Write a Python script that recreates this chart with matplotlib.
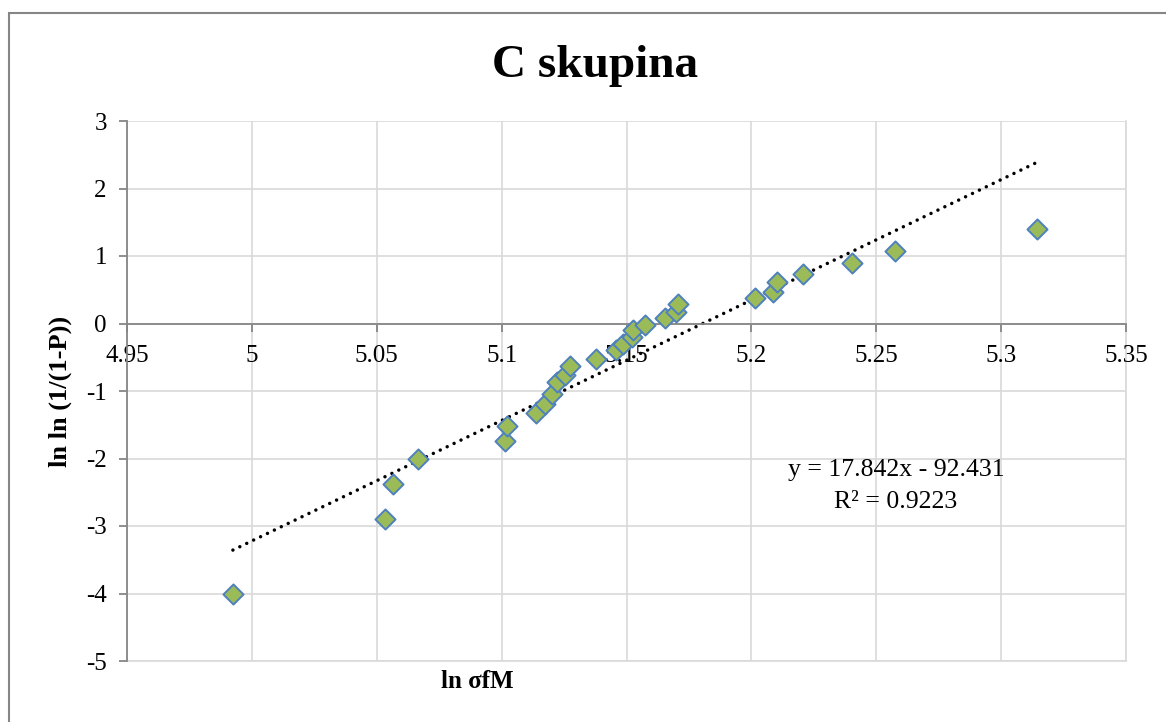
import numpy as np
import matplotlib.pyplot as plt
from matplotlib.patches import Rectangle

plt.rcParams['font.family'] = ['Liberation Serif', 'DejaVu Serif']
plt.rcParams['axes.unicode_minus'] = False

# data (ln sigma_fM vs ln ln (1/(1-P)))
ln_sigma = [4.9924, 5.0532, 5.0565, 5.0665, 5.1012, 5.1021, 5.1139, 5.1172,
            5.1203, 5.1222, 5.1255, 5.1275, 5.1376, 5.1458, 5.1485, 5.1521,
            5.1528, 5.1576, 5.1655, 5.1699, 5.1705, 5.2016, 5.2085, 5.2103,
            5.2208, 5.2401, 5.2575, 5.3145]
lnln_p = [-4.01, -2.895, -2.376, -2.01, -1.743, -1.521, -1.328, -1.189,
          -1.050, -0.870, -0.770, -0.636, -0.521, -0.389, -0.300, -0.201,
          -0.101, -0.016, 0.088, 0.170, 0.293, 0.378, 0.467, 0.616,
          0.740, 0.889, 1.076, 1.398]

slope, intercept = 17.842, -92.431
r2 = 0.9223

x_ticks = [4.95, 5.0, 5.05, 5.1, 5.15, 5.2, 5.25, 5.3, 5.35]
x_tick_labels = ['4.95', '5', '5.05', '5.1', '5.15', '5.2', '5.25', '5.3', '5.35']
y_ticks = [-5, -4, -3, -2, -1, 0, 1, 2, 3]

W, H = 1166, 722
fig = plt.figure(figsize=(W / 100, H / 100), dpi=100)
ax = fig.add_axes([127 / W, 1 - 661 / H, (1126 - 127) / W, (661 - 121) / H])

grid_c = '#d9d9d9'
axis_c = '#868686'

ax.set_xlim(4.95, 5.35)
ax.set_ylim(-5, 3)
ax.set_xticks(x_ticks)
ax.set_xticklabels(x_tick_labels)
ax.set_yticks(y_ticks)
ax.grid(True, color=grid_c, lw=1.2, zorder=0)
ax.set_axisbelow(True)

for side in ['top', 'right']:
    ax.spines[side].set_visible(False)
ax.spines['left'].set_color(axis_c)
ax.spines['left'].set_linewidth(1.3)
ax.spines['bottom'].set_position(('data', 0))
ax.spines['bottom'].set_color(axis_c)
ax.spines['bottom'].set_linewidth(1.3)
ax.tick_params(axis='both', direction='out', length=5.5, width=1.3, color=axis_c,
               labelsize=18, pad=9)
ax.tick_params(axis='x', pad=10)

# frame lines at the top/right/bottom of the plot area come from the grid
ax.axhline(-5, color=grid_c, lw=1.2, zorder=0, clip_on=False)
ax.axvline(5.35, color=grid_c, lw=1.2, zorder=0, clip_on=False)

# trend line
xs = np.array([min(ln_sigma), max(ln_sigma)])
ax.plot(xs, slope * xs + intercept, color='black', lw=2.5,
        linestyle=(0, (0.01, 2.2)), dash_capstyle='round', zorder=2)

ax.scatter(ln_sigma, lnln_p, marker='D', s=105, facecolor='#9bbb59',
           edgecolor='#4f81bd', linewidth=1.4, zorder=3, clip_on=False)

fig.text(595 / W, 1 - 77 / H, 'C skupina', fontsize=34, fontweight='bold',
         ha='center', va='baseline')
fig.text(477 / W, 1 - 682 / H, 'ln σfM', fontsize=18, fontweight='bold',
         ha='center', va='center')
fig.text(60 / W, 1 - 391 / H, 'ln ln (1/(1-P))', fontsize=19, fontweight='bold',
         ha='center', va='center', rotation=90)
fig.text(896 / W, 1 - 470 / H, f'y = {slope}x - {abs(intercept)}', fontsize=18.5,
         ha='center', va='center')
fig.text(896 / W, 1 - 502 / H, f'R² = {r2}', fontsize=18.5,
         ha='center', va='center')

# chart border (only top and left visible inside the picture)
fig.patches.append(Rectangle((9 / W, -0.5), 2, 1.5 - 13 / H, transform=fig.transFigure,
                             fill=False, edgecolor=axis_c, lw=1.5, clip_on=False))

fig.savefig('out.png', dpi=100)
